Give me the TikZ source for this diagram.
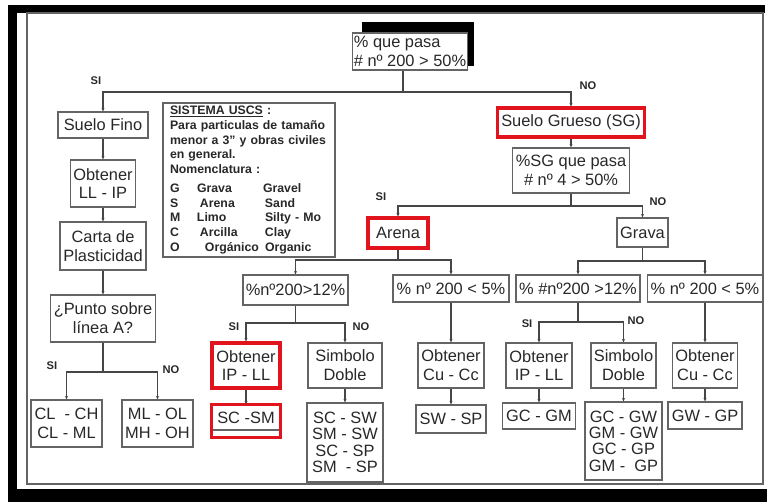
\documentclass[tikz,border=0pt]{standalone}
\usepackage{fontspec}
\setmainfont{Liberation Sans}
\usetikzlibrary{arrows.meta,positioning,calc,backgrounds}
\definecolor{ink}{RGB}{40,40,40}
\definecolor{cedge}{RGB}{100,100,100}
\definecolor{cline}{RGB}{70,70,70}
\definecolor{cred}{RGB}{225,20,30}
\newcommand{\nomrow}[3]{\makebox[0.81cm][l]{#1}\makebox[1.98cm][l]{#2}\mbox{#3}}
\tikzset{
  box/.style={draw=cedge, line width=1pt, fill=white, inner sep=1pt, align=center, text=ink,
    font=\fontsize{14}{16}\selectfont},
  hl/.style={box, draw=cred, line width=2.6pt},
  tall/.style={box, font=\fontsize{14}{14}\selectfont},
  flow/.style={-{Stealth[length=3pt,width=2.6pt]}, draw=cline, line width=0.9pt},
  wire/.style={draw=cline, line width=0.9pt},
  yn/.style={font=\bfseries\fontsize{9.5}{11}\selectfont, inner sep=0pt, text=ink},
  legend/.style={draw=cedge, line width=1pt, fill=white, align=left, text=ink,
    inner xsep=0.21cm, inner ysep=0pt, text width=4.74cm, minimum height=4.62cm,
    font=\bfseries\fontsize{10.5}{12.5}\selectfont},
}

\begin{document}
\begin{tikzpicture}[x=0.03cm, y=-0.03cm]
  \useasboundingbox (0,0) rectangle (767,502);
  % frame
  \fill[black] (8,5) rectangle (765,13);
  \fill[black] (8,5) rectangle (17,502);
  \fill[black] (8,489) rectangle (767,502);
  \draw[cedge, line width=1pt] (27,13) rectangle (763,484);

  % first split
  \node[box, align=left, inner xsep=1pt, minimum width=3.42cm, minimum height=1.11cm] (q1) at (410,51.5) {\% que pasa\\\# nº 200 > 50\%};
  \node[box, minimum width=2.7cm, minimum height=0.78cm] (fino) at (103,125) {Suelo Fino};
  \node[hl, minimum width=4.41cm, minimum height=0.87cm] (grueso) at (571,122.5) {Suelo Grueso (SG)};

  % fine soils
  \node[box, minimum width=1.95cm, minimum height=1.41cm] (obtLL) at (103,183.5) {Obtener\\LL - IP};
  \node[box, minimum width=2.58cm, minimum height=1.44cm] (carta) at (103,246) {Carta de\\Plasticidad};
  \node[box, minimum width=3.15cm, minimum height=1.41cm] (punto) at (103,318.5) {¿Punto sobre\\línea A?};
  \node[box, minimum width=2.13cm, minimum height=1.41cm] (clch) at (66.5,423.5) {CL~~- CH\\CL - ML};
  \node[box, minimum width=2.13cm, minimum height=1.41cm] (mlol) at (157.5,423.5) {ML - OL\\MH - OH};

  % legend
  \node[legend] (uscs) at (249,180) {\underline{SISTEMA USCS} :\\
    Para particulas de tamaño\\
    menor a 3" y obras civiles\\
    en general.\\
    Nomenclatura :\\[4pt]
    \nomrow{G}{Grava}{Gravel}\\
    \nomrow{S}{\hspace*{0.09cm}Arena}{\hspace*{0.06cm}Sand}\\
    \nomrow{M}{Limo}{\hspace*{0.06cm}Silty - Mo}\\
    \nomrow{C}{\hspace*{0.09cm}Arcilla}{\hspace*{0.06cm}Clay}\\
    \nomrow{O}{\hspace*{0.24cm}Orgánico}{\hspace*{0.06cm}Organic}};

  % coarse soils
  \node[box, minimum width=3.51cm, minimum height=1.35cm] (sg) at (571,170.5) {\%SG que pasa\\\# nº 4 > 50\%};
  \node[hl, minimum width=1.8cm, minimum height=0.9cm] (arena) at (398,233) {Arena};
  \node[box, minimum width=1.53cm, minimum height=0.87cm] (grava) at (642.5,232.5) {Grava};

  \node[box, minimum width=3.15cm, minimum height=0.9cm] (fin12) at (295.5,290) {\%nº200>12\%};
  \node[box, minimum width=3.48cm, minimum height=0.81cm] (are5) at (451,288.5) {\% nº 200 < 5\%};
  \node[box, minimum width=3.72cm, minimum height=0.81cm] (grv12) at (578,288.5) {\% \#nº200 >12\%};
  \node[box, minimum width=3.45cm, minimum height=0.81cm] (grv5) at (705,288.5) {\% nº 200 < 5\%};

  \node[hl, minimum width=2.04cm, minimum height=1.35cm] (obtA) at (246,365.5) {Obtener\\IP - LL};
  \node[box, minimum width=2.22cm, minimum height=1.35cm] (simA) at (345,365.5) {Simbolo\\Doble};
  \node[box, minimum width=1.98cm, minimum height=1.35cm] (cuA) at (451,365.5) {Obtener\\Cu - Cc};
  \node[box, minimum width=1.98cm, minimum height=1.35cm] (obtG) at (539,365.5) {Obtener\\IP - LL};
  \node[box, minimum width=1.95cm, minimum height=1.35cm] (simG) at (623.5,365.5) {Simbolo\\Doble};
  \node[box, minimum width=1.95cm, minimum height=1.35cm] (cuG) at (705,365.5) {Obtener\\Cu - Cc};

  \node[box, minimum width=2.04cm, minimum height=0.75cm] (scsm) at (246,417.5) {SC -SM};
  \draw[cred, line width=2.6pt] (scsm.north west) rectangle ([yshift=-0.21cm]scsm.south east);
  \node[tall, minimum width=2.28cm, minimum height=2.37cm] (scsw) at (345,442.5) {SC - SW\\SM - SW\\SC - SP\\SM~~- SP};
  \node[box, minimum width=2.1cm, minimum height=0.84cm] (swsp) at (451,419) {SW - SP};
  \node[box, minimum width=2.19cm, minimum height=0.78cm] (gcgm) at (539,416) {GC - GM};
  \node[tall, minimum width=2.31cm, minimum height=2.34cm] (gcgw) at (623.5,441) {GC - GW\\GM - GW\\GC - GP\\GM -~~GP};
  \node[box, minimum width=2.22cm, minimum height=0.81cm] (gwgp) at (705,415.5) {GW - GP};

  % yes / no labels
  \node[yn] (siTop) at (96,81) {SI};
  \node[yn] (noTop) at (588,86) {NO};
  \node[yn] (siSG) at (381,197) {SI};
  \node[yn] (noSG) at (658,202) {NO};
  \node[yn] (siPunto) at (52,366) {SI};
  \node[yn] (noPunto) at (171,370) {NO};
  \node[yn] (siFin) at (234,327) {SI};
  \node[yn] (noFin) at (361,327) {NO};
  \node[yn] (siGrv) at (527,324) {SI};
  \node[yn] (noGrv) at (636,321) {NO};

  % connectors
  \coordinate (j0) at (403,92);
  \draw[wire] (q1.south -| j0) -- (j0);
  \draw[flow] (j0) -| (fino);
  \draw[flow] (j0) -| (grueso);
  \draw[flow] (fino) -- (obtLL);
  \draw[flow] (obtLL) -- (carta);
  \draw[flow] (carta) -- (punto);
  \coordinate (j1) at (103,372);
  \draw[wire] (punto) -- (j1);
  \draw[flow] (j1) -| (clch);
  \draw[flow] (j1) -| (mlol);

  \draw[flow] (grueso) -- (sg);
  \coordinate (j2) at (571,206);
  \draw[wire] (sg) -- (j2);
  \draw[flow] (j2) -| (arena);
  \draw[flow] (j2) -| (grava);

  \coordinate (j3) at (398,260);
  \draw[wire] (arena) -- (j3);
  \draw[flow] (j3) -| (fin12);
  \draw[flow] (j3) -| (are5);
  \coordinate (j4) at (642.5,261);
  \draw[wire] (grava) -- (j4);
  \draw[flow] (j4) -| (grv12);
  \draw[flow] (j4) -| (grv5);

  \coordinate (j5) at (295.5,323);
  \draw[wire] (fin12) -- (j5);
  \draw[flow] (j5) -| (obtA);
  \draw[flow] (j5) -| (simA);
  \draw[flow] (are5) -- (cuA);
  \coordinate (j6) at (578,322);
  \draw[wire] (grv12) -- (j6);
  \draw[flow] (j6) -| (obtG);
  \draw[flow] (j6) -| (simG);
  \draw[flow] (grv5) -- (cuG);

  \draw[flow] (obtA) -- (scsm);
  \draw[flow] (simA) -- (scsw);
  \draw[flow] (cuA) -- (swsp);
  \draw[flow] (obtG) -- (gcgm);
  \draw[flow] (simG) -- (gcgw);
  \draw[flow] (cuG) -- (gwgp);

  % shadow of the first box
  \begin{scope}[on background layer]
    \fill[black] ([xshift=0.3cm,yshift=0.15cm]q1.south west) rectangle ([xshift=0.18cm,yshift=0.3cm]q1.north east);
  \end{scope}
\end{tikzpicture}
\end{document}
